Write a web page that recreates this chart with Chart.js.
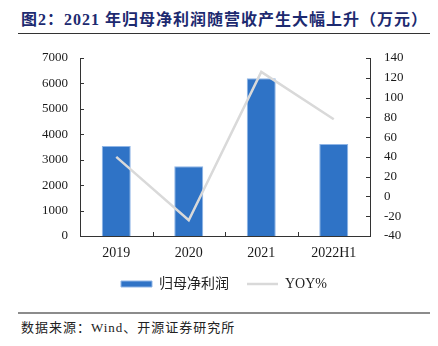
<!DOCTYPE html>
<html>
<head>
<meta charset="utf-8">
<script src="https://cdn.jsdelivr.net/npm/chart.js@4/dist/chart.umd.min.js"></script>
<style>
  html, body { margin: 0; padding: 0; background: #fff; }
  #wrap { position: relative; width: 438px; height: 346px; overflow: hidden; }
  #chart { position: absolute; left: 0; top: 0; }
  .title {
    position: absolute; left: 21px; top: 6px; white-space: nowrap;
    font: bold 16px "Liberation Serif", "Noto Sans CJK SC", serif;
    letter-spacing: 1px;
    color: #1d2a70;
  }
  .rule-top { position: absolute; left: 18px; top: 33px; width: 412px; height: 1px; background: #333; }
  .rule-bottom { position: absolute; left: 18px; top: 312px; width: 412px; height: 2px; background: #8c8c8c; }
  .source {
    position: absolute; left: 21px; top: 317px; white-space: nowrap;
    font: 13px "Liberation Serif", "Noto Sans CJK SC", serif;
    letter-spacing: 1px; color: #222;
  }
</style>
</head>
<body>
<div id="wrap">
  <div class="title">图2：2021 年归母净利润随营收产生大幅上升（万元）</div>
  <div class="rule-top"></div>
  <canvas id="chart" width="438" height="305"></canvas>
  <div class="rule-bottom"></div>
  <div class="source">数据来源：Wind、开源证券研究所</div>
</div>
<script>
// Annual attributable net profit (万元) and its year-on-year growth (%)
const categories = ["2019", "2020", "2021", "2022H1"];
const netProfit = [3540, 2745, 6205, 3620];
const yoyPct = [40, -24, 126, 78];

const leftTicks = [0, 1000, 2000, 3000, 4000, 5000, 6000, 7000];
const rightTicks = [-40, -20, 0, 20, 40, 60, 80, 100, 120, 140];

const seriesNames = ["归母净利润", "YOY%"];

const BAR_BLUE = "#2f73c6";
const LINE_GREY = "#d9d9d9";
const AXIS = "#333333";
const SERIF = "'Liberation Serif', 'Noto Sans CJK SC', serif";

// Short tick marks pointing into the plot area
const innerTicks = {
  id: "innerTicks",
  afterDraw(chart) {
    const { ctx, chartArea: a, scales } = chart;
    const len = 4;
    ctx.save();
    ctx.strokeStyle = AXIS;
    ctx.lineWidth = 1;
    ctx.beginPath();
    scales.y.ticks.forEach(t => {
      const p = Math.round(scales.y.getPixelForValue(t.value)) + 0.5;
      ctx.moveTo(a.left, p); ctx.lineTo(a.left + len, p);
    });
    scales.y1.ticks.forEach(t => {
      const p = Math.round(scales.y1.getPixelForValue(t.value)) + 0.5;
      ctx.moveTo(a.right - len, p); ctx.lineTo(a.right, p);
    });
    const n = categories.length;
    const step = scales.x.width / n;
    for (let i = 1; i < n; i++) {
      const p = Math.round(scales.x.left + i * step) + 0.5;
      ctx.moveTo(p, a.bottom); ctx.lineTo(p, a.bottom - len);
    }
    ctx.stroke();
    ctx.restore();
  }
};

const plainLabel = v => String(v);

new Chart(document.getElementById("chart"), {
  data: {
    labels: categories,
    datasets: [
      {
        type: "bar",
        label: seriesNames[0],
        data: netProfit,
        yAxisID: "y",
        backgroundColor: BAR_BLUE,
        borderColor: "#8fb5e6",
        borderWidth: 1,
        categoryPercentage: 0.8,
        barPercentage: 0.5,
        pointStyle: "rect",
        order: 1
      },
      {
        type: "line",
        label: seriesNames[1],
        data: yoyPct,
        yAxisID: "y1",
        borderColor: LINE_GREY,
        backgroundColor: LINE_GREY,
        borderWidth: 2.5,
        pointRadius: 0,
        pointStyle: "line",
        tension: 0,
        order: 0
      }
    ]
  },
  options: {
    responsive: false,
    animation: false,
    layout: { padding: { top: 58, left: 10, right: 0, bottom: 4 } },
    plugins: {
      tooltip: { enabled: false },
      legend: {
        position: "bottom",
        labels: {
          usePointStyle: true,
          pointStyleWidth: 31,
          boxWidth: 31,
          boxHeight: 6,
          padding: 18,
          color: "#222",
          font: { family: SERIF, size: 14 },
          sort: (a, b) => a.datasetIndex - b.datasetIndex
        }
      }
    },
    scales: {
      x: {
        type: "category",
        offset: true,
        grid: { display: false, drawTicks: false },
        border: { display: true, color: AXIS, width: 1 },
        ticks: { color: "#1a1a1a", padding: 9, font: { family: SERIF, size: 14 } },
        afterFit(s) { s.height = 23; }
      },
      y: {
        position: "left",
        min: 0, max: 7000,
        afterBuildTicks(s) { s.ticks = leftTicks.map(v => ({ value: v })); },
        grid: { display: false, drawTicks: false },
        border: { display: true, color: AXIS, width: 1 },
        ticks: { color: "#1a1a1a", padding: 12, autoSkip: false, callback: plainLabel,
                 font: { family: SERIF, size: 13 } },
        afterFit(s) { s.width = 70; }
      },
      y1: {
        position: "right",
        min: -40, max: 140,
        afterBuildTicks(s) { s.ticks = rightTicks.map(v => ({ value: v })); },
        grid: { display: false, drawTicks: false },
        border: { display: true, color: AXIS, width: 1 },
        ticks: { color: "#1a1a1a", padding: 14, autoSkip: false, callback: plainLabel,
                 font: { family: SERIF, size: 13 } },
        afterFit(s) { s.width = 68; }
      }
    }
  },
  plugins: [innerTicks]
});
</script>
</body>
</html>
